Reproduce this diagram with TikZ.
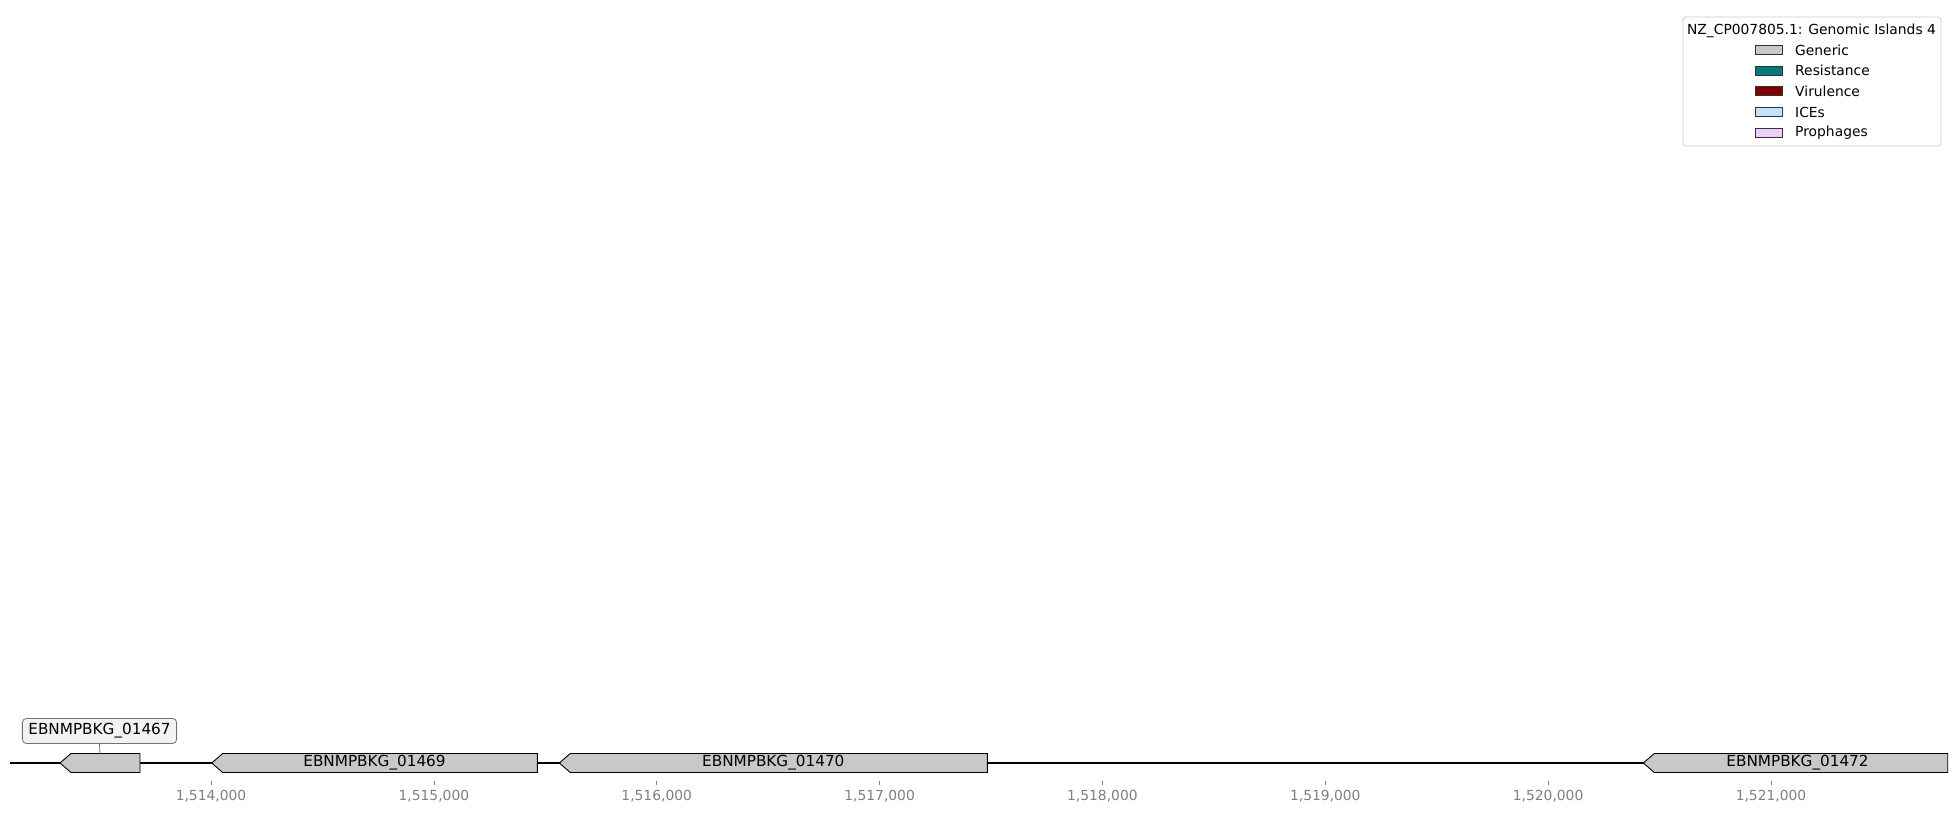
\documentclass[tikz,border=0pt]{standalone}
\usepackage{fontspec}
\setmainfont{DejaVu Sans}
\definecolor{genegray}{HTML}{C8C8C8}
\definecolor{restcol}{HTML}{007B7B}
\definecolor{virucol}{HTML}{800000}
\definecolor{icecol}{HTML}{C2E3FA}
\definecolor{phagecol}{HTML}{EDCDFA}
\definecolor{tickgray}{HTML}{7F7F7F}
\definecolor{calloutfill}{HTML}{F2F2F2}
\begin{document}
\begin{tikzpicture}[x=1bp,y=-1bp,
  backbone/.style={draw=black, line width=2bp},
  gene/.style={draw=black, fill=genegray, line width=0.9bp, line join=miter},
  genetext/.style={inner sep=0pt, font=\fontsize{15.3}{18}\selectfont},
  callout/.style={draw=black!55, fill=calloutfill, rounded corners=4bp, line width=0.8bp,
    minimum height=25bp, inner xsep=6bp, font=\fontsize{15.3}{18}\selectfont},
  tickmark/.style={draw=tickgray, line width=0.8bp},
  ticklabel/.style={text=tickgray, inner sep=0pt, font=\fontsize{13.9}{16}\selectfont},
  legpatch/.style={draw=black!80, line width=0.7bp, minimum width=27bp, minimum height=9bp, inner sep=0pt},
  legtext/.style={anchor=west, inner sep=0pt, font=\fontsize{13.9}{16}\selectfont}]
\useasboundingbox (0,0) rectangle (1957,813);

% sequence backbone
\coordinate (seqstart) at (10,763);
\coordinate (seqend) at (1947,763);
\draw[backbone] (seqstart) -- (seqend);

% genes (all on the reverse strand)
\draw[gene] (60,763) -- (71,753.5) -- (140,753.5) -- (140,772.5) -- (71,772.5) -- cycle;
\draw[gene] (211.7,763) -- (222.7,753.5) -- (537.3,753.5) -- (537.3,772.5) -- (222.7,772.5) -- cycle;
\draw[gene] (559.3,763) -- (570.3,753.5) -- (987.3,753.5) -- (987.3,772.5) -- (570.3,772.5) -- cycle;
\draw[gene] (1643.3,763) -- (1654.3,753.5) -- (1947.7,753.5) -- (1947.7,772.5) -- (1654.3,772.5) -- cycle;

\node[genetext] (g1469) at (374.5,763) {EBNMPBKG\_01469};
\node[genetext] (g1470) at (773.3,763) {EBNMPBKG\_01470};
\node[genetext] (g1472) at (1797.5,763) {EBNMPBKG\_01472};

% small gene gets a boxed label above it
\coordinate (g1467top) at (100,753.5);
\node[callout] (c1467) at (99.5,731) {EBNMPBKG\_01467};
\draw[draw=black!55, line width=0.8bp] (c1467.south) -- (g1467top);

% position axis
\foreach \tx/\tlab in {211/{1,514,000}, 433.9/{1,515,000}, 656.7/{1,516,000}, 879.6/{1,517,000},
    1102.4/{1,518,000}, 1325.3/{1,519,000}, 1548.1/{1,520,000}, 1771/{1,521,000}}{
  \draw[tickmark] (\tx,781) -- (\tx,785);
  \node[ticklabel] at (\tx,796) {\tlab};
}

% legend
\draw[draw=black!20, fill=white, rounded corners=3bp, line width=0.8bp] (1683,17) rectangle (1941,146);
\node[inner sep=0pt, font=\fontsize{13.9}{16}\selectfont] (legtitle) at (1811.5,30.7) {NZ\_CP007805.1: Genomic Islands 4};
\node[legpatch, fill=genegray] (pgen) at (1768.5,50) {};
\node[legpatch, fill=restcol] (pres) at (1768.5,70.7) {};
\node[legpatch, fill=virucol] (pvir) at (1768.5,91.3) {};
\node[legpatch, fill=icecol] (pice) at (1768.5,112) {};
\node[legpatch, fill=phagecol] (ppha) at (1768.5,132.6) {};
\node[legtext] (lgen) at (1795,50) {Generic};
\node[legtext] (lres) at (1795,70.7) {Resistance};
\node[legtext] (lvir) at (1795,91.3) {Virulence};
\node[legtext] (lice) at (1795,112) {ICEs};
\node[legtext] (lpha) at (1795,132.6) {Prophages};
\end{tikzpicture}
\end{document}
